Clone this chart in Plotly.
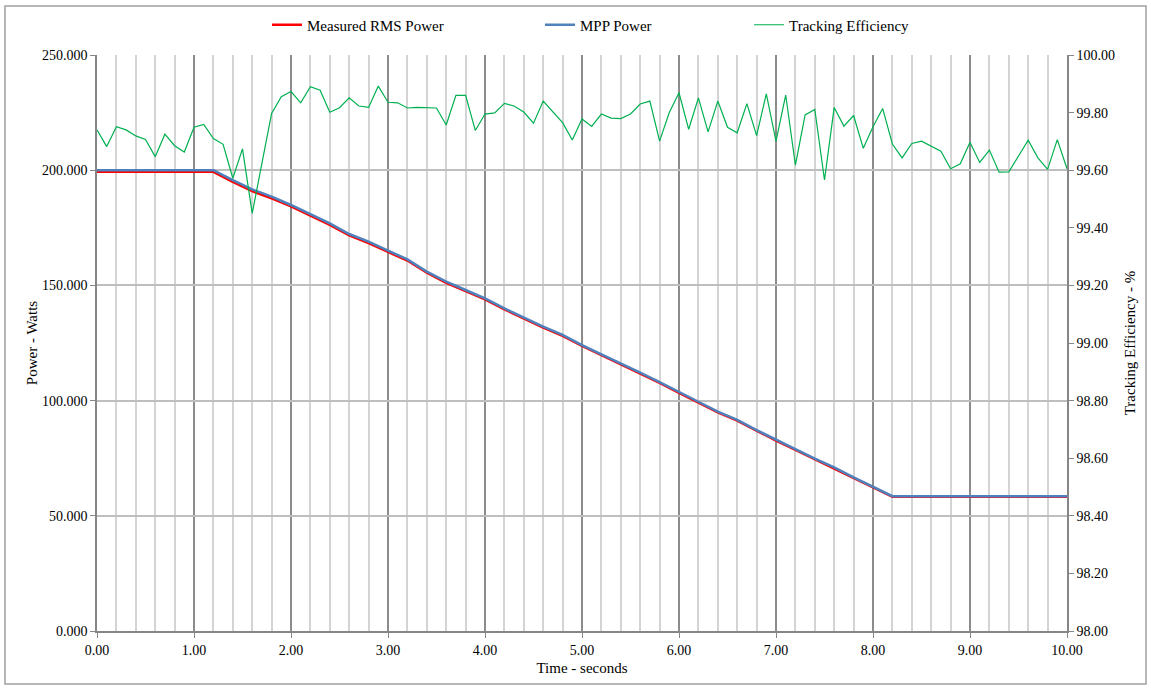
import plotly.graph_objects as go

# ---- data ----
t_eff = [0.0, 0.1, 0.2, 0.3, 0.4, 0.5, 0.6, 0.7, 0.8, 0.9,
         1.0, 1.1, 1.2, 1.3, 1.4, 1.5, 1.6, 1.7, 1.8, 1.9,
         2.0, 2.1, 2.2, 2.3, 2.4, 2.5, 2.6, 2.7, 2.8, 2.9,
         3.0, 3.1, 3.2, 3.3, 3.4, 3.5, 3.6, 3.7, 3.8, 3.9,
         4.0, 4.1, 4.2, 4.3, 4.4, 4.5, 4.6, 4.7, 4.8, 4.9,
         5.0, 5.1, 5.2, 5.3, 5.4, 5.5, 5.6, 5.7, 5.8, 5.9,
         6.0, 6.1, 6.2, 6.3, 6.4, 6.5, 6.6, 6.7, 6.8, 6.9,
         7.0, 7.1, 7.2, 7.3, 7.4, 7.5, 7.6, 7.7, 7.8, 7.9,
         8.0, 8.1, 8.2, 8.3, 8.4, 8.5, 8.6, 8.7, 8.8, 8.9,
         9.0, 9.1, 9.2, 9.3, 9.4, 9.5, 9.6, 9.7, 9.8, 9.9, 10.0]

tracking_eff = [99.740, 99.682, 99.751, 99.740, 99.719, 99.707, 99.647, 99.725, 99.685, 99.663,
                99.749, 99.759, 99.710, 99.690, 99.572, 99.674, 99.450, 99.620, 99.797, 99.855,
                99.873, 99.834, 99.890, 99.878, 99.801, 99.817, 99.851, 99.823, 99.818, 99.892,
                99.836, 99.834, 99.816, 99.818, 99.818, 99.816, 99.757, 99.860, 99.860, 99.738,
                99.795, 99.799, 99.832, 99.823, 99.802, 99.763, 99.840, 99.803, 99.765, 99.705,
                99.778, 99.752, 99.795, 99.781, 99.779, 99.795, 99.830, 99.840, 99.701, 99.800,
                99.869, 99.742, 99.851, 99.733, 99.840, 99.749, 99.730, 99.831, 99.720, 99.865,
                99.701, 99.861, 99.618, 99.792, 99.811, 99.566, 99.818, 99.753, 99.790, 99.676,
                99.751, 99.814, 99.691, 99.643, 99.693, 99.701, 99.684, 99.666, 99.605, 99.622,
                99.697, 99.627, 99.670, 99.593, 99.594, 99.647, 99.704, 99.643, 99.603, 99.706, 99.605]

t_power = [0.0, 0.2, 0.4, 0.6, 0.8, 1.0, 1.2, 1.4, 1.6, 1.8,
           2.0, 2.2, 2.4, 2.6, 2.8, 3.0, 3.2, 3.4, 3.6, 3.8,
           4.0, 4.2, 4.4, 4.6, 4.8, 5.0, 5.2, 5.4, 5.6, 5.8,
           6.0, 6.2, 6.4, 6.6, 6.8, 7.0, 7.2, 7.4, 7.6, 7.8,
           8.0, 8.2, 8.4, 8.6, 8.8, 9.0, 9.2, 9.4, 9.6, 9.8, 10.0]

mpp_power = [200.0, 200.0, 200.0, 200.0, 200.0, 200.0, 200.0, 195.7, 191.7, 188.5,
             184.9, 180.9, 176.9, 172.3, 169.0, 165.1, 161.3, 156.0, 151.6, 148.0,
             144.4, 140.0, 136.0, 132.1, 128.5, 124.1, 120.1, 116.2, 112.1, 108.0,
             103.6, 99.5, 95.2, 91.6, 87.2, 82.9, 78.9, 74.8, 71.0, 66.7,
             62.6, 58.5, 58.5, 58.5, 58.5, 58.5, 58.5, 58.5, 58.5, 58.5, 58.5]

measured_power = [199.3, 199.3, 199.3, 199.3, 199.3, 199.3, 199.3, 194.9, 190.9, 187.8,
                  184.3, 180.3, 176.3, 171.7, 168.4, 164.5, 160.8, 155.5, 151.1, 147.5,
                  143.9, 139.6, 135.6, 131.7, 128.1, 123.7, 119.7, 115.8, 111.8, 107.7,
                  103.3, 99.2, 94.9, 91.3, 86.9, 82.6, 78.6, 74.5, 70.7, 66.4,
                  62.4, 58.3, 58.3, 58.3, 58.3, 58.3, 58.3, 58.3, 58.3, 58.3, 58.3]

x_ticks = [0, 1, 2, 3, 4, 5, 6, 7, 8, 9, 10]

FONT = "Liberation Serif"
W, H = 1151, 688
L, R, T, B = 97, 84, 55, 57
PW, PH = W - L - R, H - T - B


def px_x(p):
    return (p - L) / PW


def px_y(p):
    return (H - B - p) / PH


fig = go.Figure()

fig.add_trace(go.Scatter(x=t_power, y=measured_power, mode="lines", name="Measured RMS Power",
                         line=dict(color="#FF0000", width=2.5), legend="legend"))
fig.add_trace(go.Scatter(x=t_power, y=mpp_power, mode="lines", name="MPP Power",
                         line=dict(color="#4F81BD", width=2.5), legend="legend2"))
fig.add_trace(go.Scatter(x=t_eff, y=tracking_eff, mode="lines", name="Tracking Efficiency",
                         line=dict(color="#00B050", width=1.2), yaxis="y2", legend="legend3"))

leg_common = dict(orientation="h", yanchor="middle", xanchor="left",
                  xref="container", yref="container",
                  font=dict(family=FONT, size=15, color="black"),
                  bgcolor="rgba(0,0,0,0)", itemwidth=30, tracegroupgap=0)

fig.update_layout(
    width=W, height=H,
    autosize=False,
    showlegend=True,
    margin=dict(l=L, r=R, t=T, b=B, autoexpand=False),
    paper_bgcolor="white", plot_bgcolor="white",
    font=dict(family=FONT, size=14, color="black"),
    legend=dict(x=267 / W, y=1 - 25 / H, **leg_common),
    legend2=dict(x=540 / W, y=1 - 25 / H, **leg_common),
    legend3=dict(x=749 / W, y=1 - 25 / H, **leg_common),
    xaxis=dict(
        range=[0, 10], tickvals=x_ticks, tickformat=".2f",
        showgrid=True, gridcolor="#8C8C8C", gridwidth=1.5,
        minor=dict(dtick=0.2, showgrid=True, gridcolor="#D4D4D4", gridwidth=1.5),
        showline=True, linecolor="#868686", linewidth=1.5,
        ticks="outside", ticklen=5, tickcolor="#868686",
        tickfont=dict(family=FONT, size=14, color="black"),
        title=dict(text="Time - seconds", font=dict(family=FONT, size=15, color="black"), standoff=6),
        zeroline=False,
    ),
    yaxis=dict(
        range=[0, 250], dtick=50, tickformat=".3f",
        showgrid=True, gridcolor="#BEBEBE", gridwidth=1.5,
        showline=True, linecolor="#868686", linewidth=1.5,
        ticks="outside", ticklen=5, tickcolor="#868686",
        tickfont=dict(family=FONT, size=14, color="black"),
        title=dict(text="Power - Watts", font=dict(family=FONT, size=15, color="black"), standoff=1),
        zeroline=False,
    ),
    yaxis2=dict(
        range=[98, 100], dtick=0.2, tickformat=".2f",
        overlaying="y", side="right", showgrid=False,
        showline=True, linecolor="#868686", linewidth=1.5,
        ticks="outside", ticklen=5, tickcolor="#868686",
        tickfont=dict(family=FONT, size=14, color="black"),
        title=dict(text="Tracking Efficiency - %", font=dict(family=FONT, size=15, color="black"), standoff=10),
        zeroline=False,
    ),
    shapes=[dict(type="rect", xref="paper", yref="paper",
                 x0=px_x(5), x1=px_x(1146), y0=px_y(684), y1=px_y(6),
                 line=dict(color="#A0A0A0", width=1.5), layer="below")],
)

fig.write_html("out.html", config={"displayModeBar": False},
               post_script="document.body.style.margin='0';")
